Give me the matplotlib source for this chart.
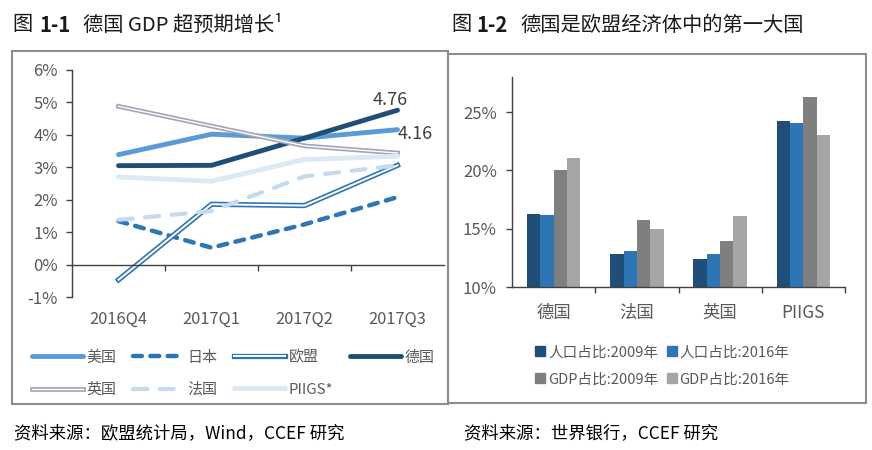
"""
Two panels: German GDP growth vs. peers, and Germany's weight in the EU.
"""

import matplotlib
matplotlib.use("Agg")
import matplotlib.pyplot as plt
import matplotlib.patheffects as pe
from matplotlib.lines import Line2D
from matplotlib.patches import Rectangle
import numpy as np

plt.rcParams["font.family"] = ["Noto Sans CJK SC", "DejaVu Sans"]

W, H = 872, 450

# left panel: GDP growth, %
quarters = ["2016Q4", "2017Q1", "2017Q2", "2017Q3"]
us = [3.39, 4.02, 3.90, 4.16]
japan = [1.34, 0.52, 1.24, 2.08]
eu = [-0.47, 1.86, 1.82, 3.06]
germany = [3.05, 3.06, 3.90, 4.76]
uk = [4.88, 4.27, 3.66, 3.44]
france = [1.38, 1.65, 2.72, 3.06]
piigs = [2.70, 2.57, 3.24, 3.34]

# right panel: share of EU, %
regions = ["德国", "法国", "英国", "PIIGS"]
pop_2009 = [16.27, 12.85, 12.36, 24.20]
pop_2016 = [16.18, 13.05, 12.85, 24.07]
gdp_2009 = [20.00, 15.75, 13.93, 26.30]
gdp_2016 = [21.10, 14.95, 16.10, 23.07]

TXT = "#595959"
AXC = "#404040"


def px_box(l, t, r, b):
    return [l / W, 1 - b / H, (r - l) / W, (b - t) / H]


fig = plt.figure(figsize=(W / 100, H / 100), dpi=100)

# panel frames
for l, t, r, b in [(12, 51, 448, 404), (448, 54, 866, 403)]:
    fig.add_artist(Rectangle((l / W, 1 - b / H), (r - l) / W, (b - t) / H,
                             transform=fig.transFigure, fill=False,
                             edgecolor="#8c8c8c", linewidth=1.5))

# titles
for x, s, w in [(12, "图", "normal"), (39, "1-1", "semibold"),
                (83, "德国 GDP 超预期增长¹", "normal"),
                (451, "图", "normal"), (476, "1-2", "semibold"),
                (520, "德国是欧盟经济体中的第一大国", "normal")]:
    fig.text(x / W, 1 - 25 / H, s, fontsize=14.6, fontweight=w,
             ha="left", va="center", color="#1a1a1a")

# sources
fig.text(14 / W, 1 - 433 / H, "资料来源：欧盟统计局，Wind，CCEF 研究",
         fontsize=12.5, ha="left", va="center", color="black")
fig.text(464 / W, 1 - 433 / H, "资料来源：世界银行，CCEF 研究",
         fontsize=12.5, ha="left", va="center", color="black")

# ---- left: line chart
ax = fig.add_axes(px_box(72, 70, 444, 297))
x = np.arange(len(quarters))


def double(color, outer, inner):
    return dict(color="white", linewidth=inner,
                path_effects=[pe.Stroke(linewidth=outer, foreground=color),
                              pe.Normal()])


h_us, = ax.plot(x, us, color="#5B9BD5", lw=3.5, solid_capstyle="round", label="美国")
h_jp, = ax.plot(x, japan, color="#2E75B6", lw=3.2, dashes=(2.0, 1.9),
                dash_capstyle="round", label="日本")
h_eu, = ax.plot(x, eu, label="欧盟", **double("#2E75B6", 3.8, 1.4))
h_de, = ax.plot(x, germany, color="#1F4E79", lw=3.5, solid_capstyle="round", label="德国")
h_uk, = ax.plot(x, uk, label="英国", **double("#A0A5B8", 3.4, 1.0))
h_fr, = ax.plot(x, france, color="#C5DAEE", lw=3.0, dashes=(3.4, 3.0),
                dash_capstyle="round", label="法国")
h_pi, = ax.plot(x, piigs, color="#DDE8F5", lw=3.5, solid_capstyle="round", label="PIIGS*")

ax.annotate(f"{germany[-1]:.2f}", (x[-1], germany[-1]), xytext=(-5, 7),
            textcoords="offset points", ha="center", va="center",
            fontsize=13, color=AXC)
ax.annotate(f"{us[-1]:.2f}", (x[-1], us[-1]), xytext=(13, -3),
            textcoords="offset points", ha="center", va="center",
            fontsize=13, color=AXC)

ax.set_xlim(-0.5, len(quarters) - 0.5)
ax.set_ylim(-1, 6)
ax.set_yticks(range(-1, 7))
ax.set_yticklabels([f"{v}%" for v in range(-1, 7)])
ax.set_xticks(np.arange(0.5, len(quarters) - 0.5, 1.0))
ax.set_xticklabels([])
for i, q in enumerate(quarters):
    ax.text(i, -0.10, q, transform=ax.get_xaxis_transform(),
            ha="center", va="center", fontsize=11.8, color=TXT)
for s in ("top", "right"):
    ax.spines[s].set_visible(False)
ax.spines["bottom"].set_position(("data", 0))
for s in ("left", "bottom"):
    ax.spines[s].set_color(AXC)
    ax.spines[s].set_linewidth(1.0)
ax.tick_params(axis="y", length=4, width=1.0, color=AXC, labelsize=12,
               labelcolor=TXT, pad=6)
ax.tick_params(axis="x", direction="out", length=4, width=1.0, color=AXC)

fig.legend(handles=[h_us, h_uk, h_jp, h_fr, h_eu, h_pi, h_de],
           loc="upper left", bbox_to_anchor=(18 / W, 1 - 337 / H),
           ncol=4, frameon=False, fontsize=10.8, labelcolor=TXT,
           handlelength=3.4, handletextpad=0.25, columnspacing=1.1,
           labelspacing=1.2)

# ---- right: bar chart
bx = fig.add_axes(px_box(512, 77, 845, 287))
pos = np.arange(len(regions))
bw = 0.16
series = [(pop_2009, "#1F4E79", "人口占比:2009年"),
          (pop_2016, "#2E75B6", "人口占比:2016年"),
          (gdp_2009, "#7F7F7F", "GDP占比:2009年"),
          (gdp_2016, "#A5A5A5", "GDP占比:2016年")]
handles = []
for k, (vals, col, lab) in enumerate(series):
    bx.bar(pos + (k - 1.5) * bw, np.array(vals) - 10, bw, bottom=10,
           color=col, label=lab)
    handles.append(Line2D([], [], marker="s", linestyle="none",
                          markersize=7, color=col, label=lab))

bx.set_xlim(-0.5, len(regions) - 0.5)
bx.set_ylim(10, 28)
bx.set_yticks([10, 15, 20, 25])
bx.set_yticklabels([f"{v}%" for v in [10, 15, 20, 25]])
bx.set_xticks(np.arange(0.5, len(regions), 1.0))
bx.set_xticklabels([])
bx.set_xticks(pos, minor=True)
bx.set_xticklabels(regions, minor=True)
for s in ("top", "right"):
    bx.spines[s].set_visible(False)
for s in ("left", "bottom"):
    bx.spines[s].set_color(AXC)
    bx.spines[s].set_linewidth(1.0)
bx.tick_params(axis="y", length=4, width=1.0, color=AXC, labelsize=12,
               labelcolor=TXT, pad=7)
bx.tick_params(axis="x", which="major", length=4, width=1.0, color=AXC)
bx.tick_params(axis="x", which="minor", length=0, labelsize=12.5,
               labelcolor=TXT, pad=12)

fig.legend(handles=[handles[0], handles[2], handles[1], handles[3]],
           loc="center", bbox_to_anchor=(662 / W, 1 - 366 / H),
           ncol=2, frameon=False, fontsize=10.5, labelcolor=TXT,
           handlelength=0.8, handletextpad=0.15, columnspacing=0.5,
           labelspacing=0.9)

fig.savefig("out.png", dpi=100)
